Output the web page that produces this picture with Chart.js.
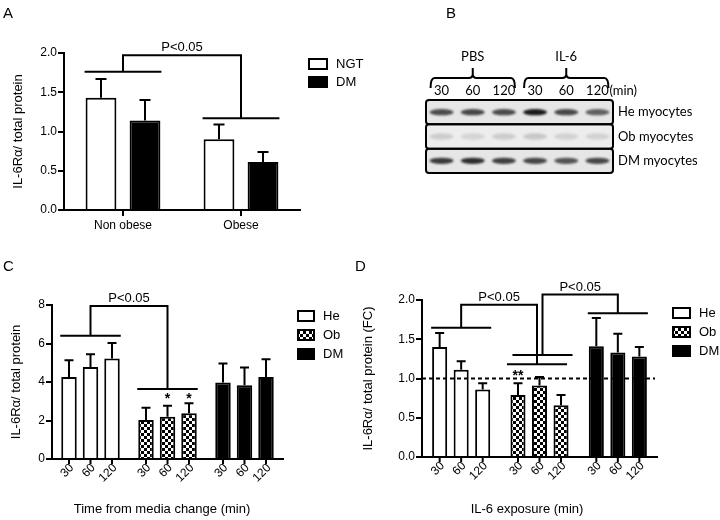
<!DOCTYPE html>
<html>
<head>
<meta charset="utf-8">
<script src="https://cdn.jsdelivr.net/npm/chart.js@4.4.1/dist/chart.umd.min.js"></script>
<style>
  body { margin: 0; width: 720px; height: 520px; background: #fff; position: relative; overflow: hidden;
         font-family: "Liberation Sans", Arial, sans-serif; }
  .panel { position: absolute; }
  .letter { position: absolute; font-size: 15px; line-height: 15px; color: #000; z-index: 2; }
</style>
</head>
<body>
<div class="letter" style="left:3px;top:5px">A</div>
<div class="letter" style="left:446px;top:5px">B</div>
<div class="letter" style="left:3px;top:258px">C</div>
<div class="letter" style="left:355px;top:258px">D</div>

<div class="panel" style="left:360px;top:0"><canvas id="chartB" width="360" height="250"></canvas></div>
<div class="panel" style="left:0;top:0"><canvas id="chartA" width="400" height="250"></canvas></div>
<div class="panel" style="left:0;top:250px"><canvas id="chartC" width="360" height="270"></canvas></div>
<div class="panel" style="left:360px;top:250px"><canvas id="chartD" width="360" height="270"></canvas></div>

<script>
// ---- panel A: IL-6Ra in muscle, non obese vs obese ----
const aGroups = ['Non obese', 'Obese'];
const aNGT = [1.43, 0.90];
const aNGTErr = [0.24, 0.19];
const aDM = [1.14, 0.61];
const aDMErr = [0.26, 0.13];

// ---- panel B: western blot, band intensity per lane ----
const bTreatments = ['PBS', 'IL-6'];
const bLanes = ['30', '60', '120', '30', '60', '120'];
const bRows = ['He myocytes', 'Ob myocytes', 'DM myocytes'];
const bandHe = [0.72, 0.74, 0.72, 0.95, 0.74, 0.62];
const bandOb = [0.14, 0.11, 0.14, 0.16, 0.12, 0.12];
const bandDM = [0.80, 0.86, 0.78, 0.74, 0.68, 0.74];

// ---- panels C and D: time courses ----
const groups = ['He', 'Ob', 'DM'];
const times = ['30', '60', '120'];

const cHe = [4.26, 4.78, 5.22];
const cHeErr = [0.87, 0.66, 0.81];
const cOb = [2.03, 2.19, 2.38];
const cObErr = [0.63, 0.58, 0.52];
const cDM = [3.98, 3.83, 4.26];
const cDMErr = [0.98, 0.92, 0.92];

const dHe = [1.40, 1.11, 0.86];
const dHeErr = [0.18, 0.11, 0.08];
const dOb = [0.79, 0.91, 0.66];
const dObErr = [0.15, 0.11, 0.13];
const dDM = [1.41, 1.33, 1.28];
const dDMErr = [0.36, 0.24, 0.12];

const FONT = '"Liberation Sans", Arial, sans-serif';
Chart.defaults.font.family = FONT;
Chart.defaults.font.size = 12;
Chart.defaults.color = '#000';

function checker() {
    const c = document.createElement('canvas');
    c.width = 6; c.height = 6;
    const g = c.getContext('2d');
    g.fillStyle = '#fff'; g.fillRect(0, 0, 6, 6);
    g.fillStyle = '#000'; g.fillRect(0, 0, 3, 3); g.fillRect(3, 3, 3, 3);
    return g.createPattern(c, 'repeat');
}
const groupFills = ['#fff', checker(), '#000'];

// error bars, significance brackets, stars, rotated bar labels, legend
const decor = {
    id: 'decor',
    afterDraw(chart, args, o) {
        const ctx = chart.ctx, ys = chart.scales.y, area = chart.chartArea;
        const n = chart.data.datasets.length;
        ctx.save();
        ctx.strokeStyle = '#000';
        ctx.fillStyle = '#000';
        ctx.lineWidth = 2;
        ctx.lineJoin = 'miter';

        if (o.refLine != null) {
            const y = ys.getPixelForValue(o.refLine);
            ctx.setLineDash([4, 3]);
            ctx.beginPath(); ctx.moveTo(area.left, y); ctx.lineTo(area.right - 2, y); ctx.stroke();
            ctx.setLineDash([]);
        }

        chart.data.datasets.forEach((ds, di) => {
            chart.getDatasetMeta(di).data.forEach((bar, i) => {
                const top = ys.getPixelForValue(ds.data[i] + ds.errors[i]);
                ctx.beginPath();
                ctx.moveTo(bar.x, bar.y); ctx.lineTo(bar.x, top);
                ctx.moveTo(bar.x - o.cap, top); ctx.lineTo(bar.x + o.cap, top);
                ctx.stroke();
            });
        });

        const spans = (o.lines || []).map(l => {
            const first = chart.getDatasetMeta(0).data[l.group];
            const last = chart.getDatasetMeta(n - 1).data[l.group];
            const dx = l.dx || 0;
            const x1 = first.x - first.width / 2 - 1 + dx;
            const x2 = last.x + last.width / 2 + 1 + dx;
            const y = ys.getPixelForValue(l.y);
            ctx.beginPath(); ctx.moveTo(x1, y); ctx.lineTo(x2, y); ctx.stroke();
            return { cx: (x1 + x2) / 2, y };
        });
        ctx.font = '13px ' + FONT;
        ctx.textAlign = 'center';
        ctx.textBaseline = 'alphabetic';
        (o.brackets || []).forEach(b => {
            const a = spans[b.from], c = spans[b.to];
            const top = ys.getPixelForValue(b.top);
            ctx.beginPath();
            ctx.moveTo(a.cx, a.y); ctx.lineTo(a.cx, top); ctx.lineTo(c.cx, top); ctx.lineTo(c.cx, c.y);
            ctx.stroke();
            ctx.fillText(b.text, (a.cx + c.cx) / 2, top - 4);
        });

        ctx.font = 'bold 14px ' + FONT;
        (o.stars || []).forEach(s => {
            const bar = chart.getDatasetMeta(s.dataset).data[s.index];
            ctx.fillText(s.text, bar.x, ys.getPixelForValue(s.y) + 8);
        });

        if (o.barTicks) {
            const axisY = area.bottom;
            ctx.font = '12px ' + FONT;
            ctx.textAlign = 'right';
            ctx.textBaseline = 'middle';
            chart.data.datasets.forEach((ds, di) => {
                chart.getDatasetMeta(di).data.forEach(bar => {
                    ctx.beginPath(); ctx.moveTo(bar.x, axisY); ctx.lineTo(bar.x, axisY + 5); ctx.stroke();
                    ctx.save();
                    ctx.translate(bar.x + 3, axisY + 7);
                    ctx.rotate(-Math.PI / 4);
                    ctx.fillText(ds.label, 0, 0);
                    ctx.restore();
                });
            });
        }

        if (o.xTitle) {
            ctx.font = '13px ' + FONT;
            ctx.textAlign = 'center';
            ctx.textBaseline = 'middle';
            ctx.fillText(o.xTitle.text, o.xTitle.x, o.xTitle.y);
        }

        if (o.legend) {
            const L = o.legend;
            ctx.font = '13px ' + FONT;
            ctx.textAlign = 'left';
            ctx.textBaseline = 'middle';
            L.items.forEach((it, k) => {
                const y = L.y + k * L.pitch;
                ctx.fillStyle = it.fill;
                ctx.fillRect(L.x, y, L.w, L.h);
                ctx.strokeRect(L.x + 1, y + 1, L.w - 2, L.h - 2);
                ctx.fillStyle = '#000';
                ctx.fillText(it.text, L.x + L.w + 8, y + L.h / 2 + 0.5);
            });
        }
        ctx.restore();
    }
};

function barChart(id, cfg) {
    return new Chart(document.getElementById(id), {
        type: 'bar',
        data: { labels: cfg.labels, datasets: cfg.datasets },
        options: {
            responsive: false,
            devicePixelRatio: 1,
            animation: false,
            layout: { padding: cfg.pad },
            datasets: {
                bar: {
                    categoryPercentage: cfg.cat,
                    barPercentage: cfg.bar,
                    borderColor: '#000',
                    borderWidth: 2,
                    borderSkipped: 'bottom'
                }
            },
            scales: {
                x: {
                    offset: true,
                    border: { color: '#000', width: 2 },
                    grid: {
                        drawOnChartArea: false,
                        drawTicks: !!cfg.nativeTicks,
                        offset: false,
                        tickLength: 6,
                        color: '#000',
                        lineWidth: 2
                    },
                    ticks: { display: !!cfg.nativeTicks, padding: 2, font: { size: 12 } },
                    afterFit: s => { s.height = 24; }
                },
                y: {
                    min: cfg.yMin,
                    max: cfg.yMax,
                    border: { color: '#000', width: 2 },
                    grid: { drawOnChartArea: false, tickLength: 6, color: '#000', lineWidth: 2 },
                    ticks: {
                        stepSize: cfg.yStep,
                        padding: 1,
                        font: { size: 12 },
                        callback: v => cfg.yDecimals ? Number(v).toFixed(cfg.yDecimals) : String(v)
                    },
                    title: {
                        display: true,
                        text: cfg.yTitle,
                        font: { size: 13 },
                        padding: { top: cfg.yTitlePad, bottom: 0 }
                    },
                    afterFit: s => { s.width = cfg.yWidth; }
                }
            },
            plugins: {
                legend: { display: false },
                tooltip: { enabled: false },
                decor: cfg.decor
            }
        },
        plugins: [decor]
    });
}

// Panel A
barChart('chartA', {
    labels: aGroups,
    datasets: [
        { label: 'NGT', data: aNGT, errors: aNGTErr, backgroundColor: '#fff' },
        { label: 'DM', data: aDM, errors: aDMErr, backgroundColor: '#000' }
    ],
    pad: { left: 7, top: 53, right: 100, bottom: 16 },
    cat: 0.746, bar: 0.70,
    nativeTicks: true,
    yMin: 0, yMax: 2, yStep: 0.5, yDecimals: 1,
    yTitle: 'IL-6R\u03b1/ total protein', yTitlePad: 4, yWidth: 57,
    decor: {
        cap: 5.5,
        lines: [{ group: 0, y: 1.76 }, { group: 1, y: 1.17 }],
        brackets: [{ from: 0, to: 1, top: 1.97, text: 'P<0.05' }],
        legend: {
            x: 308, y: 58, w: 20, h: 12, pitch: 18,
            items: [{ text: 'NGT', fill: '#fff' }, { text: 'DM', fill: '#000' }]
        }
    }
});

function timeSets(he, heErr, ob, obErr, dm, dmErr) {
    return times.map((t, k) => ({
        label: t,
        data: [he[k], ob[k], dm[k]],
        errors: [heErr[k], obErr[k], dmErr[k]],
        backgroundColor: groupFills
    }));
}
const groupLegend = groups.map((g, k) => ({ text: g, fill: groupFills[k] }));

// Panel C
barChart('chartC', {
    labels: groups,
    datasets: timeSets(cHe, cHeErr, cOb, cObErr, cDM, cDMErr),
    pad: { left: 5, top: 55, right: 77, bottom: 37 },
    cat: 0.838, bar: 0.72,
    yMin: 0, yMax: 8, yStep: 2, yDecimals: 0,
    yTitle: 'IL-6R\u03b1/ total protein', yTitlePad: 4, yWidth: 47,
    decor: {
        cap: 4.5,
        barTicks: true,
        lines: [{ group: 0, y: 6.4 }, { group: 1, y: 3.63 }],
        brackets: [{ from: 0, to: 1, top: 7.95, text: 'P<0.05' }],
        stars: [{ dataset: 1, index: 1, y: 3.32, text: '*' }, { dataset: 2, index: 1, y: 3.32, text: '*' }],
        xTitle: { text: 'Time from media change (min)', x: 162, y: 259 },
        legend: { x: 297, y: 60, w: 18, h: 12, pitch: 19, items: groupLegend }
    }
});

// Panel D
barChart('chartD', {
    labels: groups,
    datasets: timeSets(dHe, dHeErr, dOb, dObErr, dDM, dDMErr),
    pad: { left: 1, top: 50, right: 63, bottom: 39 },
    cat: 0.824, bar: 0.70,
    yMin: 0, yMax: 2, yStep: 0.5, yDecimals: 1,
    yTitle: 'IL-6R\u03b1/ total protein (FC)', yTitlePad: 0, yWidth: 61,
    decor: {
        cap: 4.5,
        barTicks: true,
        refLine: 1.0,
        lines: [
            { group: 0, y: 1.645 },
            { group: 1, y: 1.18, dx: -2.5 },
            { group: 1, y: 1.30, dx: 3 },
            { group: 2, y: 1.83 }
        ],
        brackets: [
            { from: 0, to: 1, top: 1.94, text: 'P<0.05' },
            { from: 2, to: 3, top: 2.07, text: 'P<0.05' }
        ],
        stars: [{ dataset: 0, index: 1, y: 1.08, text: '**' }],
        xTitle: { text: 'IL-6 exposure (min)', x: 167, y: 259 },
        legend: { x: 312, y: 57, w: 19, h: 12, pitch: 19, items: groupLegend }
    }
});

// Panel B: blot drawn as cells on two category scales (lane index, row index)
const BLOT_FONT = 'Lato, "Open Sans", sans-serif';
const bandRows = [bandHe, bandOb, bandDM];
const blotPoints = [];
bandRows.forEach((row, ri) => row.forEach((v, li) => blotPoints.push({ x: li, y: ri, v })));

const blot = {
    id: 'blot',
    afterDatasetsDraw(chart) {
        const ctx = chart.ctx, xs = chart.scales.x, ys = chart.scales.y, area = chart.chartArea;
        const rowH = ys.getPixelForValue(1) - ys.getPixelForValue(0);
        ctx.save();
        bRows.forEach((r, ri) => {
            const yc = ys.getPixelForValue(ri);
            ctx.fillStyle = ri === 1 ? '#ededed' : '#e6e6e6';
            ctx.fillRect(area.left, yc - rowH / 2, area.right - area.left, rowH);
        });
        ctx.filter = 'blur(1.3px)';
        chart.getDatasetMeta(0).data.forEach((pt, i) => {
            const v = blotPoints[i].v;
            ctx.fillStyle = 'rgba(15,15,15,' + v + ')';
            ctx.beginPath();
            ctx.ellipse(pt.x, pt.y, 12, 3.2, 0, 0, Math.PI * 2);
            ctx.fill();
        });
        ctx.filter = 'none';
        ctx.strokeStyle = '#000';
        ctx.lineWidth = 2;
        bRows.forEach((r, ri) => {
            const yc = ys.getPixelForValue(ri);
            ctx.beginPath();
            ctx.roundRect(area.left, yc - rowH / 2, area.right - area.left, rowH, 3);
            ctx.stroke();
        });

        // treatment braces and labels
        ctx.fillStyle = '#000';
        ctx.font = '13px ' + BLOT_FONT;
        ctx.textAlign = 'center';
        ctx.textBaseline = 'middle';
        const yBar = area.top - 22, yEnd = area.top - 12, ySpike = area.top - 32;
        bTreatments.forEach((t, k) => {
            const x1 = xs.getPixelForValue(k * 3) - 11;
            const x2 = xs.getPixelForValue(k * 3 + 2) + 11;
            const cx = xs.getPixelForValue(k * 3 + 1);
            ctx.beginPath();
            ctx.moveTo(x1, yEnd);
            ctx.quadraticCurveTo(x1, yBar, x1 + 4, yBar);
            ctx.lineTo(cx - 4, yBar);
            ctx.quadraticCurveTo(cx, yBar, cx, yBar - 4);
            ctx.lineTo(cx, ySpike);
            ctx.moveTo(cx, yBar - 4);
            ctx.quadraticCurveTo(cx, yBar, cx + 4, yBar);
            ctx.lineTo(x2 - 4, yBar);
            ctx.quadraticCurveTo(x2, yBar, x2, yEnd);
            ctx.stroke();
            ctx.fillText(t, cx, area.top - 43);
        });
        ctx.textAlign = 'left';
        ctx.fillText('(min)', xs.getPixelForValue(bLanes.length - 1) + 12, xs.bottom - 1 - 7.8);
        ctx.restore();
    }
};

new Chart(document.getElementById('chartB'), {
    type: 'scatter',
    data: { datasets: [{ data: blotPoints, parsing: false, pointRadius: 0, showLine: false }] },
    options: {
        responsive: false,
        devicePixelRatio: 1,
        animation: false,
        layout: { padding: { left: 66, top: 80, right: 7, bottom: 77 } },
        scales: {
            x: {
                type: 'category',
                labels: bLanes,
                position: 'top',
                offset: true,
                grid: { display: false, drawTicks: false },
                border: { display: false },
                ticks: { padding: 1, autoSkip: false, maxRotation: 0, font: { family: BLOT_FONT, size: 13 } },
                afterFit: s => { s.height = 20; }
            },
            y: {
                type: 'category',
                labels: bRows,
                position: 'right',
                offset: true,
                grid: { display: false, drawTicks: false },
                border: { display: false },
                ticks: { padding: 5, font: { family: BLOT_FONT, size: 13 } },
                afterFit: s => { s.width = 100; }
            }
        },
        plugins: { legend: { display: false }, tooltip: { enabled: false } }
    },
    plugins: [blot]
});
</script>
</body>
</html>
